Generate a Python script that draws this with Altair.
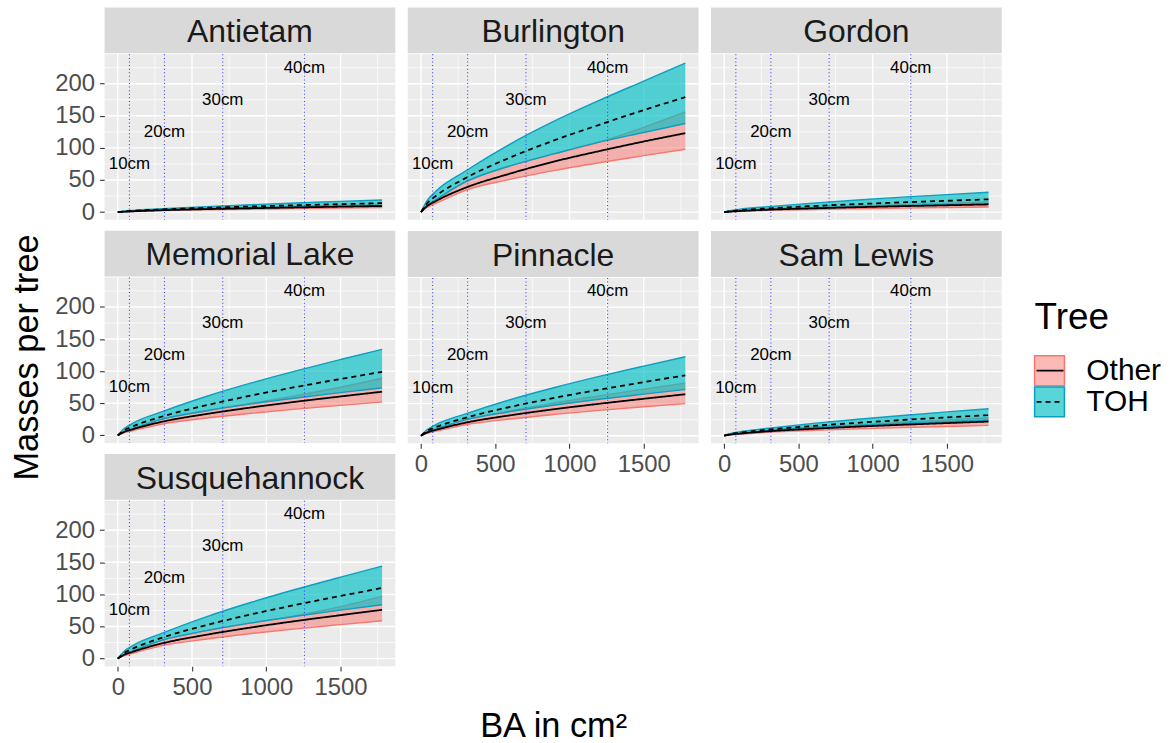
import altair as alt
import pandas as pd

FONT = "Liberation Sans"

SITES = ["Antietam", "Burlington", "Gordon", "Memorial Lake", "Pinnacle",
         "Sam Lewis", "Susquehannock"]
TREES = ["Other", "TOH"]

# basal area grid (cm^2) at which the curves were read
BA = [0, 40, 100, 300, 600, 900, 1200, 1500, 1780]

# one list per site, in SITES order
OTHER_LO = [
    [0, 0.5, 1.0, 2.4, 3.6, 4.6, 5.5, 6.3, 7],
    [0, 7.4, 13.7, 34, 51, 65, 77, 88, 98],
    [0, 0.6, 1.1, 2.7, 4.2, 5.3, 6.3, 7.2, 8],
    [0, 3.9, 7.3, 17.8, 27.0, 34.4, 40.9, 46.7, 52],
    [0, 3.8, 7.0, 17.1, 26.0, 33.1, 39.4, 45.0, 50],
    [0, 1.2, 2.2, 5.5, 8.3, 10.6, 12.6, 14.4, 16],
    [0, 4.4, 8.3, 20.2, 30.6, 39.1, 46.4, 53.0, 59],
]
OTHER_MID = [
    [0, 0.7, 1.3, 3.0, 4.7, 6.1, 7.3, 8.5, 9.5],
    [0, 9.2, 17.2, 38, 60, 79, 95, 110, 123],
    [0, 0.9, 1.7, 3.8, 5.9, 7.7, 9.3, 10.7, 12],
    [0, 5.1, 9.5, 21.3, 33.4, 43.5, 52.4, 60.6, 68],
    [0, 4.8, 9.0, 20.2, 31.7, 41.3, 49.7, 57.5, 64.5],
    [0, 1.7, 3.1, 6.9, 10.8, 14.1, 17.0, 19.6, 22],
    [0, 5.7, 10.6, 23.8, 37.3, 48.6, 58.6, 67.7, 76],
]
OTHER_HI = [
    [0, 0.8, 1.4, 3.6, 5.6, 7.3, 8.9, 10.5, 12],
    [0, 10.4, 19.3, 47, 72, 91, 109, 132, 156],
    [0, 1.0, 1.8, 4.6, 7.3, 9.6, 11.8, 13.9, 16],
    [0, 5.6, 10.4, 25.3, 38.4, 50, 62, 75, 89],
    [0, 5.4, 10.1, 24.6, 38.5, 51, 62, 72.5, 82],
    [0, 1.8, 3.4, 8.4, 13.2, 17.3, 21.0, 24.7, 28],
    [0, 6.3, 11.8, 28.7, 43.6, 55.6, 67, 81, 97],
]
TOH_LO = [
    [0, 0.8, 1.4, 3.4, 5.2, 6.6, 7.9, 9.0, 10],
    [0, 10.4, 19.3, 47, 72, 91, 109, 124, 138],
    [0, 1.0, 1.8, 4.4, 6.7, 8.6, 10.2, 11.7, 13],
    [0, 5.6, 10.4, 25.3, 38.4, 49.0, 58.2, 66.5, 74],
    [0, 5.4, 10.1, 24.6, 37.4, 47.7, 56.7, 64.7, 72],
    [0, 1.8, 3.4, 8.2, 12.5, 15.9, 18.9, 21.6, 24],
    [0, 6.3, 11.8, 28.7, 43.6, 55.6, 66.1, 75.5, 84],
]
TOH_MID = [
    [0, 1.1, 2.0, 4.2, 6.7, 8.8, 10.7, 12.4, 14],
    [0, 13.4, 25.1, 53, 85, 112, 136, 159, 179],
    [0, 1.5, 2.8, 5.9, 9.5, 12.5, 15.2, 17.7, 20],
    [0, 7.4, 13.9, 29.4, 47.1, 62.1, 75.4, 87.8, 99],
    [0, 7.1, 13.2, 27.9, 44.7, 58.9, 71.6, 83.4, 94],
    [0, 2.4, 4.5, 9.5, 15.2, 20.1, 24.4, 28.4, 32],
    [0, 8.3, 15.4, 32.7, 52.4, 69.0, 83.8, 97.6, 110],
]
TOH_HI = [
    [0, 1.4, 2.7, 5.2, 8.6, 11.6, 14.3, 16.7, 19],
    [0, 17.4, 32.5, 64, 106, 142, 174, 204, 232],
    [0, 2.3, 4.3, 8.6, 14.1, 18.9, 23.3, 27.3, 31],
    [0, 10.1, 18.8, 37.0, 61.0, 81.7, 100.5, 118.1, 134],
    [0, 9.2, 17.2, 33.9, 56.0, 75.0, 92.3, 108.4, 123],
    [0, 3.2, 5.9, 11.6, 19.1, 25.6, 31.5, 37.0, 42],
    [0, 10.8, 20.2, 39.7, 65.5, 87.8, 108.0, 126.9, 144],
]

DIAM_LABELS = ["10cm", "20cm", "30cm", "40cm"]
DIAM_BA = [78.5, 314.2, 706.9, 1256.6]
DIAM_LABEL_Y = [75, 125, 175, 225]

Y_MAJOR = [0, 50, 100, 150, 200]
Y_MINOR = [25, 75, 125, 175, 225]
X_MAJOR = [0, 500, 1000, 1500]
X_MINOR = [250, 750, 1250, 1750]

Y_TITLE = "Masses per tree"
X_TITLE = "BA in cm²"

FILL = ["#F8766D", "#00BFC4"]
FILL_OPACITY = [0.5, 0.66]
EDGE = ["#F8766D", "#0C9FC0"]
DASH = [[1, 0], [5, 4]]

W, H, SH = 292, 166, 46
GAP = 10.5

XS = alt.Scale(domain=[-89, 1869], nice=False, zero=False)
YS = alt.Scale(domain=[-11.7, 245.7], nice=False, zero=False)


def site_frame(i):
    rows = []
    series = (("Other", OTHER_LO, OTHER_MID, OTHER_HI),
              ("TOH", TOH_LO, TOH_MID, TOH_HI))
    for t, lo, mid, hi in series:
        for k, b in enumerate(BA):
            rows.append({"BA": b, "Tree": t, "lo": lo[i][k],
                         "mid": mid[i][k], "hi": hi[i][k]})
    return pd.DataFrame(rows)


diam_df = pd.DataFrame({"BA": DIAM_BA, "label": DIAM_LABELS, "ly": DIAM_LABEL_Y})


def make_axes(show_y, show_x, xtitle=None):
    if show_y:
        yax = alt.Axis(values=Y_MAJOR, grid=False, domain=False, tickSize=5,
                       tickColor="#333333", tickWidth=1.1, labelFontSize=24,
                       labelColor="#4D4D4D", labelFont=FONT, labelPadding=5,
                       minExtent=0, title=None)
    else:
        yax = None
    if show_x:
        kw = dict(values=X_MAJOR, grid=False, domain=False, tickSize=5,
                  tickColor="#333333", tickWidth=1.1, labelFontSize=24,
                  labelColor="#4D4D4D", labelFont=FONT, labelPadding=4,
                  labelFlush=False, format="d", title=xtitle)
        if xtitle:
            kw.update(titleFontSize=34.5, titleFont=FONT, titleColor="black",
                      titleFontWeight="normal", titleX=W / 2, titleY=294.7,
                      titleBaseline="alphabetic", titleAlign="center")
        xax = alt.Axis(**kw)
    else:
        xax = None
    return xax, yax


def panel(i, show_y=False, show_x=False, xtitle=None):
    xax, yax = make_axes(show_y, show_x, xtitle)

    def X(f):
        return alt.X(f, type="quantitative", scale=XS, axis=xax)

    def Y(f):
        return alt.Y(f, type="quantitative", scale=YS, axis=yax)

    df = site_frame(i)
    layers = []
    layers.append(alt.Chart(pd.DataFrame({"v": Y_MINOR})).mark_rule(
        color="white", strokeWidth=0.7).encode(y=Y("v")))
    layers.append(alt.Chart(pd.DataFrame({"v": X_MINOR})).mark_rule(
        color="white", strokeWidth=0.7).encode(x=X("v")))
    layers.append(alt.Chart(pd.DataFrame({"v": Y_MAJOR})).mark_rule(
        color="white", strokeWidth=1.4).encode(y=Y("v")))
    layers.append(alt.Chart(pd.DataFrame({"v": X_MAJOR})).mark_rule(
        color="white", strokeWidth=1.4).encode(x=X("v")))
    for k, t in enumerate(TREES):
        dft = df[df["Tree"] == t]
        layers.append(alt.Chart(dft).mark_area(
            color=FILL[k], opacity=FILL_OPACITY[k], interpolate="monotone").encode(
            x=X("BA"), y=Y("lo"), y2=alt.Y2("hi")))
        for edge in ("lo", "hi"):
            layers.append(alt.Chart(dft).mark_line(
                color=EDGE[k], strokeWidth=1.4, interpolate="monotone").encode(
                x=X("BA"), y=Y(edge)))
    layers.append(alt.Chart(diam_df).mark_rule(
        color="#2B2BFF", strokeDash=[1, 2.6], strokeWidth=1.1, opacity=0.9).encode(
        x=X("BA")))
    layers.append(alt.Chart(df).mark_line(
        color="black", strokeWidth=1.8, interpolate="monotone").encode(
        x=X("BA"), y=Y("mid"), detail="Tree:N",
        strokeDash=alt.StrokeDash("Tree:N", scale=alt.Scale(domain=TREES, range=DASH),
                                  legend=None)))
    layers.append(alt.Chart(diam_df).mark_text(
        fontSize=17, font=FONT, color="black", baseline="middle").encode(
        x=X("BA"), y=Y("ly"), text="label:N"))
    plot = alt.layer(*layers).properties(
        width=W, height=H, view=alt.ViewBackground(fill="#EBEBEB", stroke=None))

    strip = alt.Chart(pd.DataFrame({"site": [SITES[i]]})).mark_text(
        fontSize=32, font=FONT, color="#1A1A1A", baseline="alphabetic").encode(
        x=alt.value(W / 2), y=alt.value(34.8), text="site:N").properties(
        width=W, height=SH, view=alt.ViewBackground(fill="#D9D9D9", stroke=None))
    return alt.vconcat(strip, plot, spacing=0).resolve_scale(x="independent", y="independent")


# the "0" tick label of column 1 hangs ~4px below each plot, so its gap is smaller
col1 = alt.vconcat(panel(0, show_y=True),
                   panel(3, show_y=True),
                   panel(6, show_y=True, show_x=True),
                   spacing=6.2).resolve_scale(x="independent", y="independent")
col2 = alt.vconcat(panel(1), panel(4, show_x=True, xtitle=X_TITLE),
                   spacing=GAP).resolve_scale(x="independent", y="independent")
col3 = alt.vconcat(panel(2), panel(5, show_x=True),
                   spacing=GAP).resolve_scale(x="independent", y="independent")

# y axis title, centred on the panel rows
ytitle = alt.Chart(pd.DataFrame({"t": [Y_TITLE]})).mark_text(
    angle=270, fontSize=34.5, font=FONT, color="black", baseline="alphabetic",
    align="center").encode(
    x=alt.value(33), y=alt.value(351.4), text="t:N").properties(
    width=40, height=657, view=alt.ViewBackground(fill=None, stroke=None))

leg_df = pd.DataFrame({"Tree": TREES, "op": FILL_OPACITY})
ly = alt.Y("Tree:N", scale=alt.Scale(type="point", domain=TREES, range=[364.7, 396],
                                      padding=0), axis=None)
keys = alt.Chart(leg_df).mark_square(size=900, strokeWidth=1.5, opacity=1).encode(
    x=alt.value(37), y=ly,
    fill=alt.Fill("Tree:N", scale=alt.Scale(domain=TREES, range=FILL), legend=None),
    fillOpacity=alt.FillOpacity("op:Q", scale=None, legend=None),
    stroke=alt.Stroke("Tree:N", scale=alt.Scale(domain=TREES, range=EDGE), legend=None))
keylines = alt.Chart(leg_df).mark_rule(color="black", strokeWidth=1.8).encode(
    x=alt.value(24), x2=alt.value(51), y=ly,
    strokeDash=alt.StrokeDash("Tree:N", scale=alt.Scale(domain=TREES, range=DASH),
                              legend=None))
labels = alt.Chart(leg_df).mark_text(align="left", baseline="middle", fontSize=30,
                                     font=FONT, color="black").encode(
    x=alt.value(74), y=ly, text="Tree:N")
ltitle = alt.Chart(pd.DataFrame({"t": ["Tree"]})).mark_text(
    align="left", baseline="alphabetic", fontSize=37, font=FONT, color="black").encode(
    x=alt.value(22), y=alt.value(323), text="t:N")
legend = alt.layer(keys, keylines, labels, ltitle).properties(
    width=160, height=430, view=alt.ViewBackground(fill="white", stroke=None))

panels = alt.hconcat(col1, col2, col3, spacing=GAP).resolve_scale(
    x="independent", y="independent")
left = alt.hconcat(ytitle, panels, spacing=9).resolve_scale(
    x="independent", y="independent")
chart = alt.hconcat(left, legend, spacing=10).resolve_scale(
    x="independent", y="independent").properties(
    padding={"left": 5, "top": 6, "right": 0, "bottom": 0},
    background="white").configure_view(stroke=None)

chart.save("out.html", embed_options={"renderer": "svg", "actions": False})
